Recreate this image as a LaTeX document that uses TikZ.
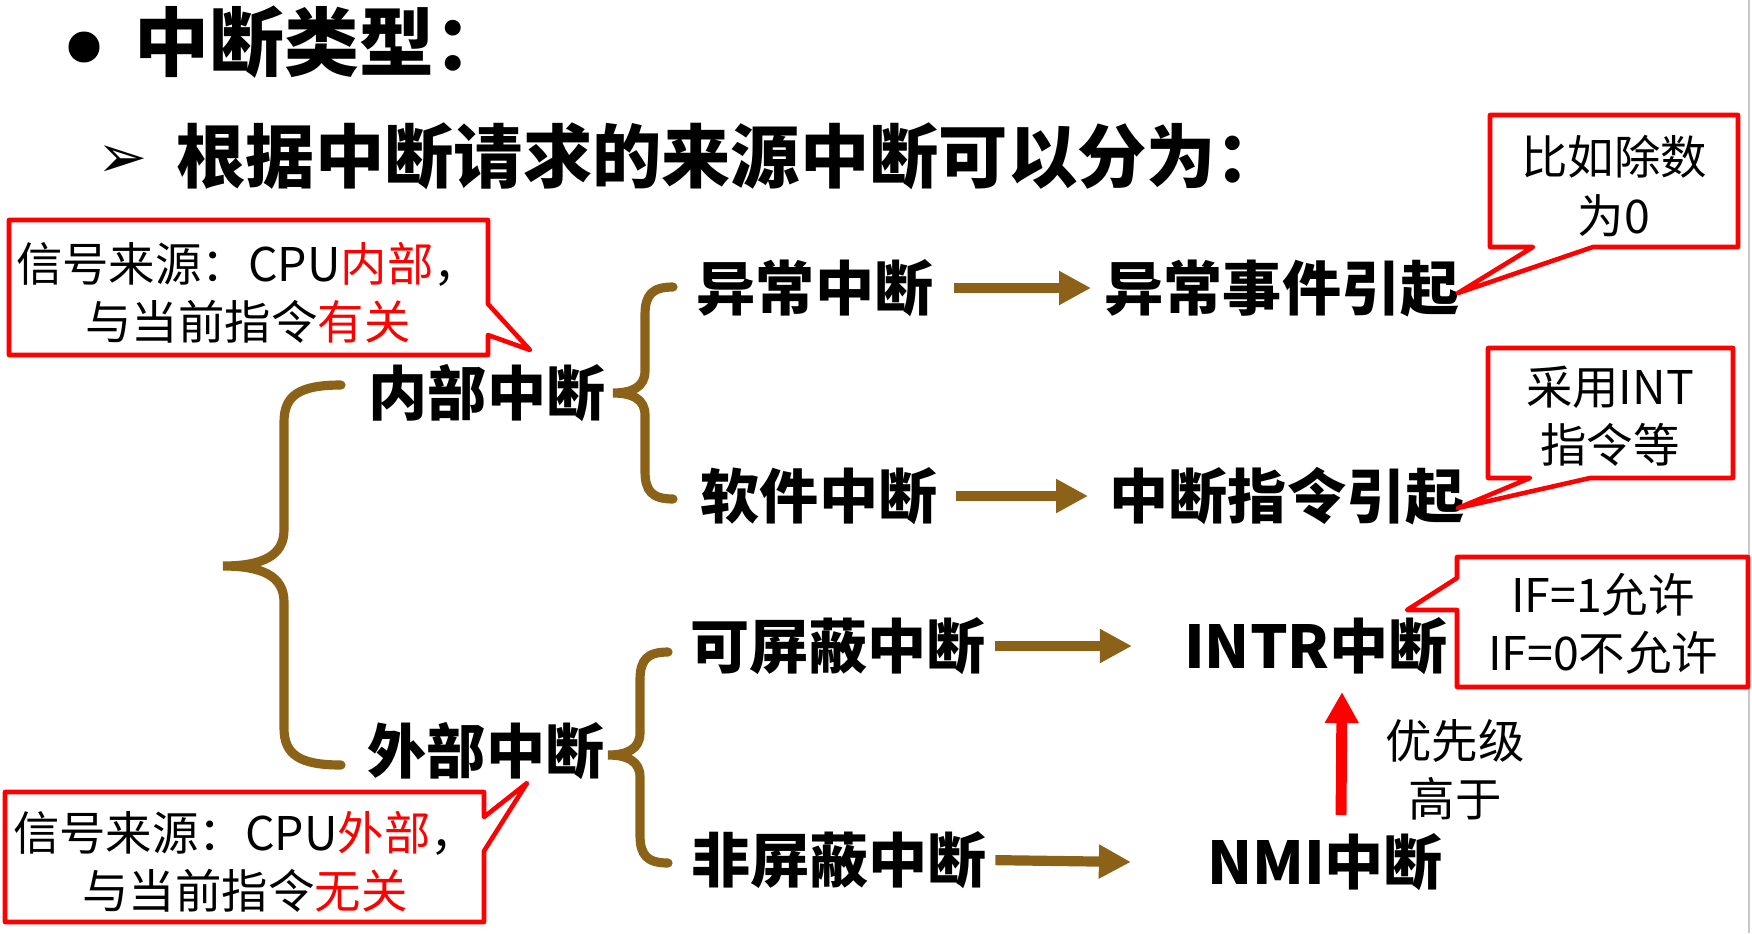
\documentclass[tikz,border=0pt]{standalone}
\usepackage{fontspec}
\setmainfont{Noto Sans CJK SC}
\newfontfamily\dingfont{DejaVu Sans}
\usetikzlibrary{arrows.meta}
\definecolor{brn}{RGB}{140,98,24}

\begin{document}
\begin{tikzpicture}[
      x=0.01cm, y=-0.01cm,
      ttl/.style   ={anchor=west, inner sep=0pt, font=\fontsize{21.3pt}{26pt}\selectfont\bfseries},
      subttl/.style={anchor=west, inner sep=0pt, font=\fontsize{19.7pt}{24pt}\selectfont\bfseries},
      kind/.style  ={inner sep=0pt, font=\fontsize{16.8pt}{20pt}\selectfont\bfseries},
      note/.style  ={inner sep=0pt, align=center, font=\fontsize{13.2pt}{16.6pt}\selectfont},
      bubble/.style={draw=red, line width=1.3pt, line join=round, fill=white},
      brace/.style ={draw=brn, line width=2.6pt, line cap=round},
      flow/.style  ={-{Triangle[length=3.2mm,width=3.2mm]}, draw=brn, line width=2.9pt},
      upflow/.style={-{Triangle[length=3.1mm,width=3.2mm]}, draw=red, line width=3.1pt}
    ]
    \useasboundingbox (0,0) rectangle (1752,933);
    \draw[black!22, line width=0.6pt] (1749,0) -- (1749,933);
    % --- 标题 ---
    \node[circle, fill=black, inner sep=0pt, minimum size=3.1mm] (dot) at (84,47) {};
    \node[ttl] (title) at (134,42) {中断类型：};
    \node[inner sep=0pt, font=\dingfont\fontsize{17pt}{20pt}\selectfont] (mark) at (123,162) {➢};
    \node[subttl] (intro) at (176,156) {根据中断请求的来源中断可以分为：};
    % --- 分类 ---
    \node[kind] (inner) at (487,393) {内部中断};
    \node[kind] (outer) at (486,751) {外部中断};
    \node[kind] (exc)   at (815,288) {异常中断};
    \node[kind] (soft)  at (819,496) {软件中断};
    \node[kind] (mask)  at (838,646) {可屏蔽中断};
    \node[kind] (nmask) at (839,860) {非屏蔽中断};
    \node[kind] (excsrc)  at (1282,288) {异常事件引起};
    \node[kind] (softsrc) at (1287,496) {中断指令引起};
    \node[kind] (intr) at (1316,646) {INTR中断};
    \node[kind] (nmi)  at (1325,862) {NMI中断};
    \node[note] (higher) at (1455,770) {优先级\\高于};
    % --- 大括号 ---
    \draw[brace] (341,385) .. controls (300,385) and (284,395) .. (284,422) -- (284,530)
      .. controls (284,556) and (262,566) .. (223,566) .. controls (262,566) and (284,576) .. (284,602)
      -- (284,728) .. controls (284,755) and (300,765) .. (341,765);
    \draw[brace] (673,287) .. controls (652,287) and (645,295) .. (645,315) -- (645,371)
      .. controls (645,387) and (632,393) .. (613,393) .. controls (632,393) and (645,399) .. (645,415)
      -- (645,471) .. controls (645,491) and (652,499) .. (673,499);
    \draw[brace] (668,652) .. controls (647,652) and (640,660) .. (640,680) -- (640,733)
      .. controls (640,749) and (627,755) .. (608,755) .. controls (627,755) and (640,761) .. (640,777)
      -- (640,835) .. controls (640,855) and (647,863) .. (668,863);
    % --- 箭头 ---
    \draw[flow, shorten <=2mm, shorten >=1.3mm] (exc.east) -- (excsrc.west);
    \draw[flow, shorten <=1.8mm, shorten >=2.1mm] (soft.east) -- (softsrc.west);
    \draw[flow, shorten <=0.9mm] (mask.east) -- ([xshift=-1.84cm]intr.center);
    \draw[flow, shorten <=0.8mm] (nmask.east) -- ([xshift=-1.94cm]nmi.center);
    \draw[upflow] ([xshift=1.6mm,yshift=4.7mm]nmi.center) -- ([xshift=2.6mm,yshift=-4.6mm]intr.center);
    % --- 标注框 ---
    \draw[bubble] (9,220) -- (488,220) -- (488,304) -- (530,350) -- (488,335) -- (488,355) -- (9,355) -- cycle;
    \node[note] (srcin) at (248,293) {信号来源：CPU\textcolor{red}{内部}，\\与当前指令\textcolor{red}{有关}};
    \draw[bubble] (5,792) -- (484,792) -- (484,817) -- (527,783) -- (484,851) -- (484,922) -- (5,922) -- cycle;
    \node[note] (srcout) at (245,862) {信号来源：CPU\textcolor{red}{外部}，\\与当前指令\textcolor{red}{无关}};
    \draw[bubble] (1490,115) -- (1738,115) -- (1738,247) -- (1593,247) -- (1458,293) -- (1533,247) -- (1490,247) -- cycle;
    \node[note] (eg) at (1614,186) {比如除数\\为0};
    \draw[bubble] (1488,348) -- (1733,348) -- (1733,478) -- (1590,478) -- (1458,508) -- (1530,478) -- (1488,478) -- cycle;
    \node[note] (intins) at (1610,416) {采用INT\\指令等};
    \draw[bubble] (1457,557) -- (1748,557) -- (1748,687) -- (1457,687) -- (1457,610) -- (1407,610) -- (1457,578) -- cycle;
    \node[note] (ifflag) at (1603,624) {IF=1允许\\IF=0不允许};
  \end{tikzpicture}
\end{document}
